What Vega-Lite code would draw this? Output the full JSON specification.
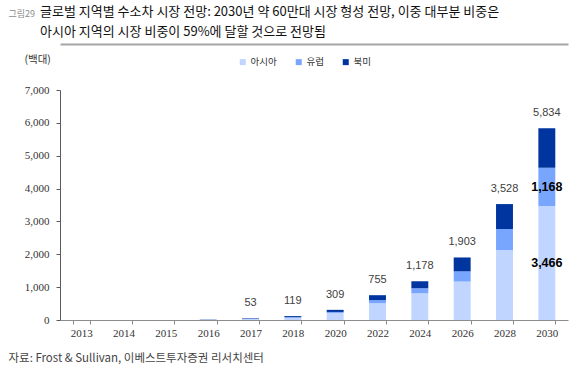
{
  "$schema": "https://vega.github.io/schema/vega-lite/v6.json",
  "autosize": {"type": "none"},
  "width": 508,
  "height": 230,
  "padding": {"left": 60, "top": 90, "right": 12, "bottom": 49},
  "background": "white",
  "title": {
    "text": ["글로벌 지역별 수소차 시장 전망: 2030년 약 60만대 시장 형성 전망, 이중 대부분 비중은", "아시아 지역의 시장 비중이 59%에 달할 것으로 전망됨"],
    "anchor": "start",
    "frame": "group",
    "dx": -20,
    "offset": -30,
    "font": "Noto Sans CJK KR",
    "fontSize": 13,
    "fontWeight": "normal",
    "color": "#111111",
    "lineHeight": 20
  },
  "data": {
    "values": [
      {"year": "2013", "region": "아시아", "value": 0},
      {"year": "2013", "region": "유럽", "value": 0},
      {"year": "2013", "region": "북미", "value": 0},
      {"year": "2014", "region": "아시아", "value": 0},
      {"year": "2014", "region": "유럽", "value": 0},
      {"year": "2014", "region": "북미", "value": 0},
      {"year": "2015", "region": "아시아", "value": 0},
      {"year": "2015", "region": "유럽", "value": 0},
      {"year": "2015", "region": "북미", "value": 0},
      {"year": "2016", "region": "아시아", "value": 3},
      {"year": "2016", "region": "유럽", "value": 2},
      {"year": "2016", "region": "북미", "value": 8},
      {"year": "2017", "region": "아시아", "value": 30},
      {"year": "2017", "region": "유럽", "value": 8},
      {"year": "2017", "region": "북미", "value": 15},
      {"year": "2018", "region": "아시아", "value": 70},
      {"year": "2018", "region": "유럽", "value": 15},
      {"year": "2018", "region": "북미", "value": 34},
      {"year": "2020", "region": "아시아", "value": 215},
      {"year": "2020", "region": "유럽", "value": 30},
      {"year": "2020", "region": "북미", "value": 64},
      {"year": "2022", "region": "아시아", "value": 510},
      {"year": "2022", "region": "유럽", "value": 95},
      {"year": "2022", "region": "북미", "value": 150},
      {"year": "2024", "region": "아시아", "value": 815},
      {"year": "2024", "region": "유럽", "value": 150},
      {"year": "2024", "region": "북미", "value": 213},
      {"year": "2026", "region": "아시아", "value": 1170},
      {"year": "2026", "region": "유럽", "value": 310},
      {"year": "2026", "region": "북미", "value": 423},
      {"year": "2028", "region": "아시아", "value": 2130},
      {"year": "2028", "region": "유럽", "value": 640},
      {"year": "2028", "region": "북미", "value": 758},
      {"year": "2030", "region": "아시아", "value": 3466},
      {"year": "2030", "region": "유럽", "value": 1168},
      {"year": "2030", "region": "북미", "value": 1200}
    ]
  },
  "transform": [
    {"calculate": "indexof(['아시아','유럽','북미'], datum.region)", "as": "ord"}
  ],
  "layer": [
    {
      "mark": {"type": "bar"},
      "encoding": {
        "x": {
          "field": "year",
          "type": "ordinal",
          "scale": {"paddingInner": 0.6, "paddingOuter": 0.3},
          "axis": {
            "orient": "bottom",
            "title": "자료: Frost & Sullivan, 이베스트투자증권 리서치센터",
            "titleAnchor": "start",
            "titleAlign": "left",
            "titleX": -52,
            "titleY": 38,
            "titleBaseline": "middle",
            "titleFont": "Liberation Sans Narrow, Noto Sans CJK KR",
            "titleFontSize": 11.5,
            "titleFontWeight": "normal",
            "titleColor": "#444444",
            "labelAngle": 0,
            "labelFont": "Liberation Sans Narrow",
            "labelFontSize": 11,
            "labelColor": "#333333",
            "labelPadding": 3,
            "domainColor": "#8c8c8c",
            "tickColor": "#8c8c8c",
            "tickSize": 4,
            "tickBand": "extent"
          }
        },
        "y": {
          "field": "value",
          "type": "quantitative",
          "stack": "zero",
          "scale": {"domain": [0, 7000]},
          "axis": {
            "title": "(백대)",
            "titleAngle": 0,
            "titleAlign": "left",
            "titleBaseline": "middle",
            "titleX": -36,
            "titleY": -31,
            "titleFont": "Noto Sans CJK KR",
            "titleFontSize": 10.5,
            "titleFontWeight": "normal",
            "titleColor": "#333333",
            "values": [0, 1000, 2000, 3000, 4000, 5000, 6000, 7000],
            "format": ",d",
            "grid": false,
            "labelFont": "Liberation Sans Narrow",
            "labelFontSize": 11,
            "labelColor": "#333333",
            "labelPadding": 7,
            "tickSize": 4,
            "tickColor": "#595959",
            "domainColor": "#595959"
          }
        },
        "color": {
          "field": "region",
          "type": "nominal",
          "scale": {"domain": ["아시아", "유럽", "북미"], "range": ["#C0D5FF", "#78A6FF", "#0035A0"]},
          "legend": {
            "title": null,
            "orient": "none",
            "direction": "horizontal",
            "legendX": 178,
            "legendY": -33,
            "symbolType": "square",
            "symbolSize": 36,
            "symbolStrokeWidth": 0,
            "labelFont": "Noto Sans CJK KR",
            "labelFontSize": 9.5,
            "labelColor": "#333333",
            "labelOffset": 3,
            "columnPadding": 17
          }
        },
        "order": {"field": "ord", "type": "quantitative"}
      }
    },
    {
      "transform": [
        {"aggregate": [{"op": "sum", "field": "value", "as": "total"}], "groupby": ["year"]},
        {"filter": "datum.total >= 50"}
      ],
      "mark": {"type": "text", "baseline": "middle", "dy": -15, "font": "Liberation Sans Narrow, Liberation Sans, sans-serif", "fontSize": 11, "color": "#404040"},
      "encoding": {
        "x": {
          "field": "year",
          "type": "ordinal",
          "axis": {
            "orient": "top",
            "offset": 46,
            "labels": false,
            "ticks": false,
            "title": "그림29",
            "titleAnchor": "start",
            "titleAlign": "left",
            "titleBaseline": "middle",
            "titleX": -52,
            "titleY": -31,
            "titleFont": "Noto Sans CJK KR",
            "titleFontSize": 9,
            "titleFontWeight": "normal",
            "titleColor": "#8c8c8c",
            "domainColor": "#a6a6a6",
            "domainWidth": 2
          }
        },
        "y": {
          "field": "total",
          "type": "quantitative",
          "axis": {
            "title": "(백대)",
            "titleAngle": 0,
            "titleAlign": "left",
            "titleBaseline": "middle",
            "titleX": -36,
            "titleY": -31,
            "titleFont": "Noto Sans CJK KR",
            "titleFontSize": 10.5,
            "titleFontWeight": "normal",
            "titleColor": "#333333",
            "values": [0, 1000, 2000, 3000, 4000, 5000, 6000, 7000],
            "format": ",d",
            "grid": false,
            "labelFont": "Liberation Sans Narrow",
            "labelFontSize": 11,
            "labelColor": "#333333",
            "labelPadding": 7,
            "tickSize": 4,
            "tickColor": "#595959",
            "domainColor": "#595959"
          }
        },
        "text": {"field": "total", "type": "quantitative", "format": ","}
      }
    },
    {
      "transform": [
        {"stack": "value", "groupby": ["year"], "sort": [{"field": "ord", "order": "ascending"}], "as": ["v0", "v1"]},
        {"filter": "datum.year == '2030' && datum.region != '북미'"},
        {"calculate": "(datum.v0 + datum.v1) / 2", "as": "mid"}
      ],
      "mark": {"type": "text", "baseline": "middle", "font": "Liberation Sans Narrow, Liberation Sans, sans-serif", "fontSize": 12.5, "fontWeight": "bold", "color": "#000000"},
      "encoding": {
        "x": {"field": "year", "type": "ordinal", "axis": null},
        "y": {
          "field": "mid",
          "type": "quantitative",
          "axis": {
            "title": "(백대)",
            "titleAngle": 0,
            "titleAlign": "left",
            "titleBaseline": "middle",
            "titleX": -36,
            "titleY": -31,
            "titleFont": "Noto Sans CJK KR",
            "titleFontSize": 10.5,
            "titleFontWeight": "normal",
            "titleColor": "#333333",
            "values": [0, 1000, 2000, 3000, 4000, 5000, 6000, 7000],
            "format": ",d",
            "grid": false,
            "labelFont": "Liberation Sans Narrow",
            "labelFontSize": 11,
            "labelColor": "#333333",
            "labelPadding": 7,
            "tickSize": 4,
            "tickColor": "#595959",
            "domainColor": "#595959"
          }
        },
        "text": {"field": "value", "type": "quantitative", "format": ","}
      }
    }
  ],
  "resolve": {"axis": {"x": "independent"}},
  "config": {
    "view": {"stroke": null},
    "axis": {"labelFont": "Liberation Sans Narrow"}
  }
}
